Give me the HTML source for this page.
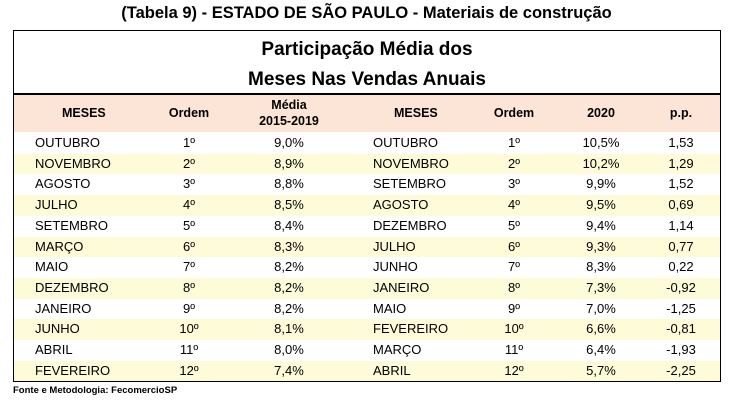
<!DOCTYPE html>
<html><head><meta charset="utf-8"><style>
body{margin:0;width:733px;height:407px;background:#fff;font-family:"Liberation Sans",sans-serif;position:relative;overflow:hidden}
.a{position:absolute;white-space:nowrap}
#box{position:absolute;left:13px;top:30px;width:706px;height:350px;border:1.5px solid #000}
.row{position:absolute;left:0;width:706px;height:20.7px}
.c{position:absolute;font-size:13px;line-height:20.7px;color:#000}
</style></head><body>
<div class="a" style="left:0;width:733px;top:4px;text-align:center;font-weight:bold;font-size:16.5px;">(Tabela 9) - ESTADO DE SÃO PAULO - Materiais de construção</div>
<div id="box">
<div class="a" style="left:0;width:706px;top:4px;text-align:center;font-weight:bold;font-size:19px;line-height:30px">Participação Média dos<br>Meses Nas Vendas Anuais</div>
<div style="position:absolute;left:0;top:62px;width:706px;height:1.5px;background:#000"></div>
<div style="position:absolute;left:0;top:64px;width:706px;height:37px;background:#fce4d6;font-weight:bold;font-size:12.5px">
<div class="a" style="left:48px;top:11px">MESES</div>
<div class="a" style="left:140px;width:70px;text-align:center;top:11px">Ordem</div>
<div class="a" style="left:240px;width:70px;text-align:center;top:2px;line-height:16px">Média<br>2015-2019</div>
<div class="a" style="left:380px;top:11px">MESES</div>
<div class="a" style="left:465px;width:70px;text-align:center;top:11px">Ordem</div>
<div class="a" style="left:557px;width:60px;text-align:center;top:11px">2020</div>
<div class="a" style="left:637px;width:60px;text-align:center;top:11px">p.p.</div>
</div>
<div id="rows"></div>
</div>
<div class="a" style="left:13px;top:385px;font-size:9.5px;font-weight:bold">Fonte e Metodologia: FecomercioSP</div>
<script>
const m1=["OUTUBRO","NOVEMBRO","AGOSTO","JULHO","SETEMBRO","MARÇO","MAIO","DEZEMBRO","JANEIRO","JUNHO","ABRIL","FEVEREIRO"];
const v1=["9,0%","8,9%","8,8%","8,5%","8,4%","8,3%","8,2%","8,2%","8,2%","8,1%","8,0%","7,4%"];
const m2=["OUTUBRO","NOVEMBRO","SETEMBRO","AGOSTO","DEZEMBRO","JULHO","JUNHO","JANEIRO","MAIO","FEVEREIRO","MARÇO","ABRIL"];
const v2=["10,5%","10,2%","9,9%","9,5%","9,4%","9,3%","8,3%","7,3%","7,0%","6,6%","6,4%","5,7%"];
const pp=["1,53","1,29","1,52","0,69","1,14","0,77","0,22","-0,92","-1,25","-0,81","-1,93","-2,25"];
const rows=document.getElementById('rows');
for(let i=0;i<12;i++){
 const r=document.createElement('div');
 
 
 r.className='row';r.style.top=(102+i*20.7)+'px';
 r.style.background=i%2?'#fdfbd8':'#fff';
 const cells=[[m1[i],21,null],[(i+1)+'º',140,70],[v1[i],240,70],[m2[i],359,null],[(i+1)+'º',465,70],[v2[i],557,60],[pp[i],637,60]];
 cells.forEach(c=>{const d=document.createElement('div');
  
  
  d.className='c';d.textContent=c[0];d.style.left=c[1]+'px';
  if(c[2]){d.style.width=c[2]+'px';d.style.textAlign='center';}
  r.appendChild(d);});
 rows.appendChild(r);
}
</script>
</body></html>
